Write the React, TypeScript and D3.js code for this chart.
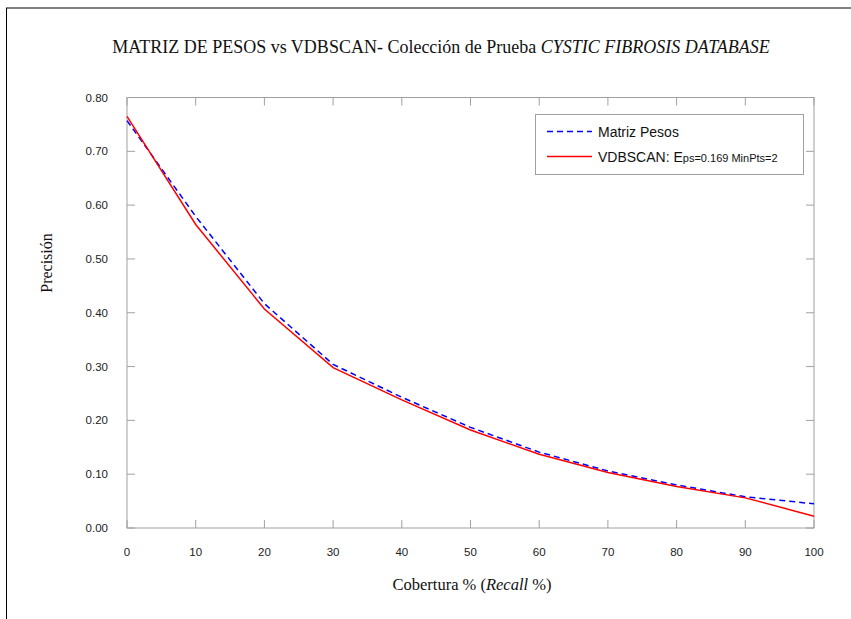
import React from "react";
import * as d3 from "d3";

const recall = [0, 10, 20, 30, 40, 50, 60, 70, 80, 90, 100];
const matrizPesos = [0.757, 0.579, 0.417, 0.304, 0.243, 0.187, 0.141, 0.106, 0.08, 0.058, 0.045];
const vdbscan = [0.765, 0.564, 0.407, 0.298, 0.238, 0.182, 0.137, 0.103, 0.077, 0.056, 0.022];
const xTicks = [0, 10, 20, 30, 40, 50, 60, 70, 80, 90, 100];
const yTicks = [0, 0.1, 0.2, 0.3, 0.4, 0.5, 0.6, 0.7, 0.8];

const W = 851;
const H = 619;
const L = 127, R = 814, T = 97.5, B = 528;

export default function App() {
  const x = d3.scaleLinear().domain([0, 100]).range([L, R]);
  const y = d3.scaleLinear().domain([0, 0.8]).range([B, T]);
  const line = d3.line<number>().x((_, i) => x(recall[i])).y((d) => y(d));
  const axisColor = "#a0a0a0";
  const sans = "'Liberation Sans', Arial, sans-serif";
  const serif = "'Liberation Serif', 'Times New Roman', serif";
  return (
    <svg width={W} height={H} style={{ position: "absolute", left: 0, top: 0, background: "#fff" }}>
      <line x1={6} x2={W} y1={8} y2={8} stroke="#808080" strokeWidth={2} />
      <line x1={6.5} x2={6.5} y1={8} y2={H} stroke="#000" strokeWidth={1} />
      <text x={441} y={53} textAnchor="middle" fontFamily={serif} fontSize={18} fill="#111">
        MATRIZ DE PESOS vs VDBSCAN- Colección de Prueba <tspan fontStyle="italic">CYSTIC FIBROSIS DATABASE</tspan>
      </text>
      <rect x={L} y={T} width={R - L} height={B - T} fill="none" stroke={axisColor} strokeWidth={1} />
      {xTicks.map((t) => (
        <g key={"x" + t}>
          <line x1={x(t)} x2={x(t)} y1={B} y2={B - 8} stroke={axisColor} />
          <line x1={x(t)} x2={x(t)} y1={T} y2={T + 8} stroke={axisColor} />
          <text x={x(t)} y={556} textAnchor="middle" fontFamily={sans} fontSize={11.5} fill="#222">
            {t}
          </text>
        </g>
      ))}
      {yTicks.map((t) => (
        <g key={"y" + t}>
          <line x1={L} x2={L + 8} y1={y(t)} y2={y(t)} stroke={axisColor} />
          <line x1={R} x2={R - 8} y1={y(t)} y2={y(t)} stroke={axisColor} />
          <text x={108} y={y(t) + 4} textAnchor="end" fontFamily={sans} fontSize={11.5} fill="#222">
            {t.toFixed(2)}
          </text>
        </g>
      ))}
      <path d={line(matrizPesos) || ""} fill="none" stroke="#0000ff" strokeWidth={1.5} strokeDasharray="6,4" />
      <path d={line(vdbscan) || ""} fill="none" stroke="#ff0000" strokeWidth={1.5} />
      <text transform={`translate(52,263) rotate(-90)`} textAnchor="middle" fontFamily={serif} fontSize={16} fill="#111">
        Precisión
      </text>
      <text x={472} y={590} textAnchor="middle" fontFamily={serif} fontSize={16.5} fill="#111">
        Cobertura % (<tspan fontStyle="italic">Recall</tspan> %)
      </text>
      <rect x={535.5} y={114.5} width={268} height={60} fill="#fff" stroke={axisColor} />
      <line x1={547} x2={592} y1={131.5} y2={131.5} stroke="#0000ff" strokeWidth={1.5} strokeDasharray="6,4" />
      <text x={598} y={137} fontFamily={sans} fontSize={14} fill="#111">Matriz Pesos</text>
      <line x1={547} x2={592} y1={156.5} y2={156.5} stroke="#ff0000" strokeWidth={1.5} />
      <text x={598} y={162} fontFamily={sans} fontSize={14} fill="#111">
        VDBSCAN: E<tspan fontSize={11}>ps=0.169 MinPts=2</tspan>
      </text>
    </svg>
  );
}
